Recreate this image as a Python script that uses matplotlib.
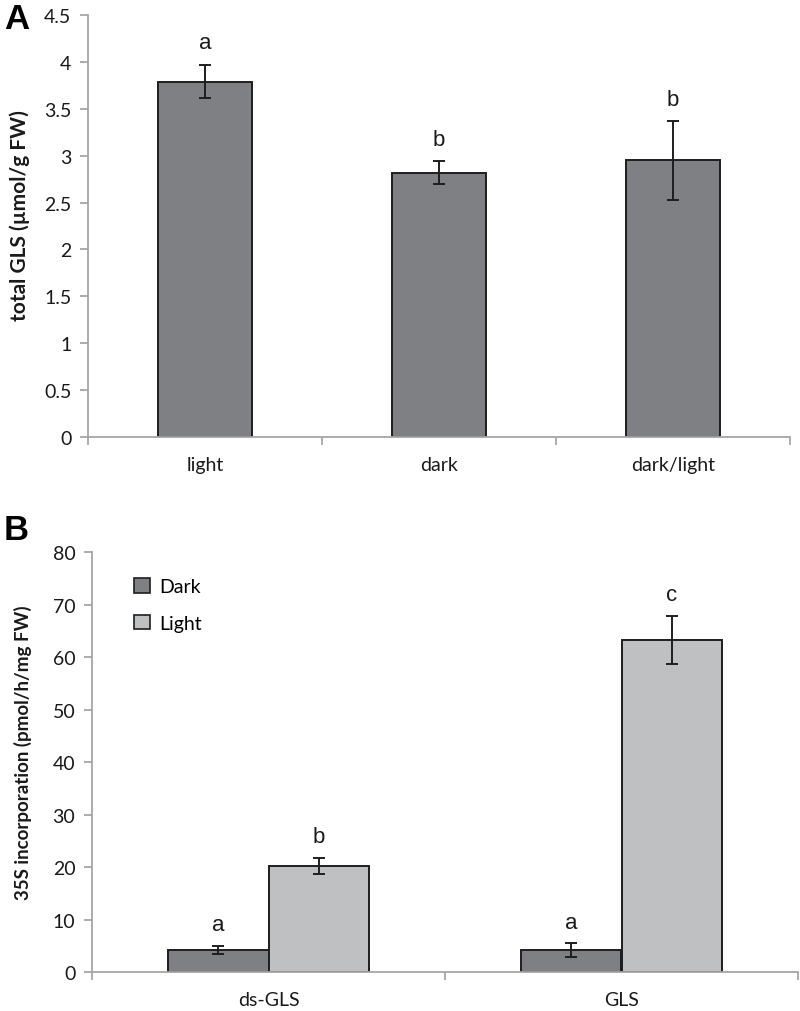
import matplotlib
matplotlib.use("Agg")
import matplotlib.pyplot as plt
from matplotlib.patches import Patch
import numpy as np

# ---- data ----
a_categories = ["light", "dark", "dark/light"]
a_values = [3.79, 2.82, 2.95]
a_errors = [0.18, 0.12, 0.42]
a_letters = ["a", "b", "b"]
a_yticks = [0, 0.5, 1, 1.5, 2, 2.5, 3, 3.5, 4, 4.5]
a_yticklabels = ["0", "0.5", "1", "1.5", "2", "2.5", "3", "3.5", "4", "4.5"]

b_categories = ["ds-GLS", "GLS"]
b_series = ["Dark", "Light"]
b_dark = [4.2, 4.2]
b_dark_err = [0.8, 1.3]
b_light = [20.2, 63.3]
b_light_err = [1.6, 4.6]
b_dark_letters = ["a", "a"]
b_light_letters = ["b", "c"]
b_yticks = [0, 10, 20, 30, 40, 50, 60, 70, 80]

DARK = "#7f8084"
LIGHT = "#bfc0c2"
EDGE = "#1e1e1e"
AXC = "#a6a6a6"
TXT = "#1a1a1a"
FONT = ["Lato", "DejaVu Sans"]
LFONT = ["Liberation Sans", "DejaVu Sans"]

plt.rcParams["font.family"] = FONT

fig = plt.figure(figsize=(8.0, 10.12), dpi=100)

def style_axes(ax, ncat, ymax):
    for s in ["top", "right"]:
        ax.spines[s].set_visible(False)
    for s in ["left", "bottom"]:
        ax.spines[s].set_color(AXC)
        ax.spines[s].set_linewidth(1.3)
    ax.set_xlim(0, ncat)
    ax.set_ylim(0, ymax)
    ax.set_xticks(np.arange(0, ncat + 1))
    ax.set_xticklabels([])
    ax.tick_params(axis="x", which="major", direction="out", length=6, width=1.3, color=AXC)
    ax.tick_params(axis="x", which="minor", length=0, pad=14, labelsize=14, labelcolor=TXT)
    ax.tick_params(axis="y", direction="out", length=6, width=1.3, color=AXC,
                   labelsize=14, labelcolor=TXT, pad=6)

# ---- panel A ----
axA = fig.add_axes([0.110, 0.5672, 0.8775, 0.4170])
xA = np.arange(len(a_categories)) + 0.5
axA.bar(xA, a_values, width=0.405, color=DARK, edgecolor=EDGE, linewidth=1.4, zorder=2)
axA.errorbar(xA, a_values, yerr=a_errors, fmt="none", ecolor=EDGE, elinewidth=1.4,
             capsize=4, capthick=1.4, zorder=3)
for x, v, e, t in zip(xA, a_values, a_errors, a_letters):
    axA.text(x, v + e + 0.12, t, ha="center", va="bottom", fontsize=16,
             family=LFONT, color=TXT)
style_axes(axA, len(a_categories), 4.5)
axA.set_xticks(xA, minor=True)
axA.set_xticklabels(a_categories, minor=True, family=FONT)
axA.set_yticks(a_yticks)
axA.set_yticklabels(a_yticklabels)
axA.set_ylabel("total GLS (µmol/g FW)", fontsize=15, fontweight="bold", color=TXT)
axA.yaxis.set_label_coords(-0.082, 0.528)
fig.text(0.005, 0.981, "A", fontsize=25, fontweight="bold", family=LFONT, va="center", ha="left")

# ---- panel B ----
axB = fig.add_axes([0.115, 0.0385, 0.8825, 0.4150])
xB = np.arange(len(b_categories)) + 0.5
w = 0.286
axB.bar(xB - w / 2, b_dark, width=w, color=DARK, edgecolor=EDGE, linewidth=1.4, zorder=2)
axB.bar(xB + w / 2, b_light, width=w, color=LIGHT, edgecolor=EDGE, linewidth=1.4, zorder=2)
axB.errorbar(xB - w / 2, b_dark, yerr=b_dark_err, fmt="none", ecolor=EDGE, elinewidth=1.4,
             capsize=4, capthick=1.4, zorder=3)
axB.errorbar(xB + w / 2, b_light, yerr=b_light_err, fmt="none", ecolor=EDGE, elinewidth=1.4,
             capsize=4, capthick=1.4, zorder=3)
for x, v, e, t in zip(xB - w / 2, b_dark, b_dark_err, b_dark_letters):
    axB.text(x, v + e + 2.0, t, ha="center", va="bottom", fontsize=16, family=LFONT, color=TXT)
for x, v, e, t in zip(xB + w / 2, b_light, b_light_err, b_light_letters):
    axB.text(x, v + e + 2.0, t, ha="center", va="bottom", fontsize=16, family=LFONT, color=TXT)
style_axes(axB, len(b_categories), 80)
axB.set_xticks(xB, minor=True)
axB.set_xticklabels(b_categories, minor=True, family=FONT)
axB.set_yticks(b_yticks)
axB.set_ylabel("35S incorporation (pmol/h/mg FW)", fontsize=13.5, fontweight="bold", color=TXT)
axB.yaxis.set_label_coords(-0.085, 0.524)
handles = [Patch(facecolor=DARK, edgecolor=EDGE, linewidth=1.2),
           Patch(facecolor=LIGHT, edgecolor=EDGE, linewidth=1.2)]
axB.legend(handles, b_series, loc="upper left", bbox_to_anchor=(0.035, 0.98), frameon=False,
           fontsize=14, handlelength=0.8, handleheight=0.8, handletextpad=0.5,
           labelspacing=1.0)
fig.text(0.005, 0.476, "B", fontsize=25, fontweight="bold", family=LFONT, va="center", ha="left")

fig.savefig("out.png", dpi=100)
